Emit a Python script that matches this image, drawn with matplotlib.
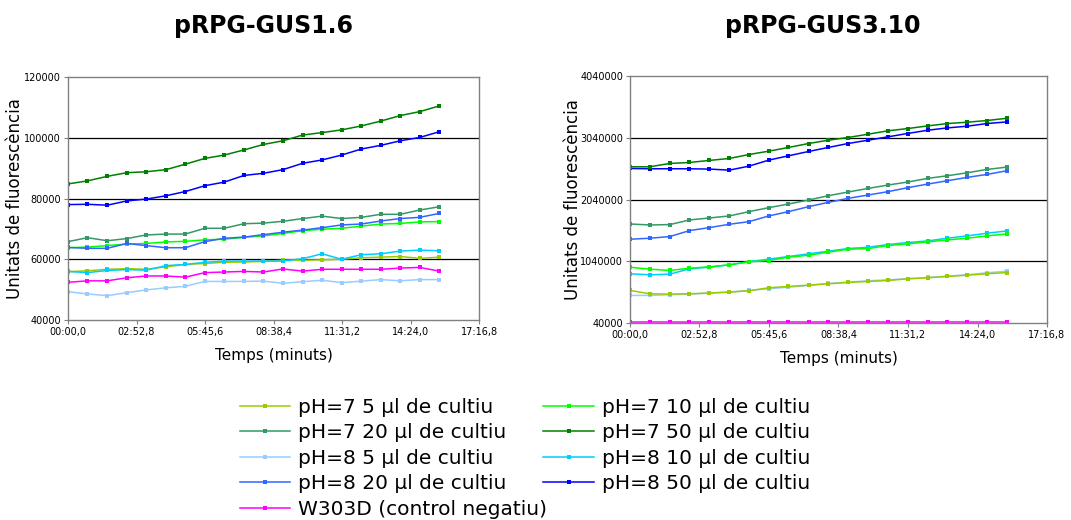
import matplotlib
matplotlib.use("Agg")
import matplotlib.pyplot as plt


# time of each reading, seconds
times_s = [0, 49, 99, 148, 197, 247, 296, 345, 394, 444,
           493, 542, 592, 641, 690, 740, 789, 838, 887, 937]

tick_s = [0, 172.8, 345.6, 518.4, 691.2, 864.0, 1036.8]
tick_labels = ["00:00,0", "02:52,8", "05:45,6", "08:38,4",
               "11:31,2", "14:24,0", "17:16,8"]

labels = ["pH=7 5 µl de cultiu", "pH=7 10 µl de cultiu",
          "pH=7 20 µl de cultiu", "pH=7 50 µl de cultiu",
          "pH=8 5 µl de cultiu", "pH=8 10 µl de cultiu",
          "pH=8 20 µl de cultiu", "pH=8 50 µl de cultiu",
          "W303D (control negatiu)"]
colors = ["#99CC00", "#00FF00", "#339966", "#008000",
          "#99CCFF", "#00CCFF", "#3366FF", "#0000FF", "#FF00FF"]

# pRPG-GUS1.6
gus16_ph7_5 = [55900, 56200, 56700, 56900, 56700, 57500, 58300, 58600, 59000, 59100,
               59300, 59700, 59700, 59800, 60000, 60500, 60700, 60900, 60300, 60700]
gus16_ph7_10 = [63800, 64000, 64500, 65000, 65200, 65700, 65900, 66400, 66600, 67200,
                67700, 68500, 69400, 69900, 70200, 70900, 71600, 71800, 72300, 72400]
gus16_ph7_20 = [65800, 67100, 66100, 66800, 68000, 68300, 68300, 70200, 70200, 71700,
                71900, 72500, 73400, 74200, 73400, 73800, 74800, 74800, 76200, 77300]
gus16_ph7_50 = [84800, 85800, 87300, 88500, 88800, 89500, 91300, 93200, 94300, 96000,
                97800, 99000, 100900, 101700, 102600, 103900, 105500, 107300, 108600, 110500]
gus16_ph8_5 = [49300, 48600, 48000, 49000, 49900, 50600, 51100, 52700, 52700, 52700,
               52800, 52100, 52600, 53100, 52300, 52800, 53300, 52900, 53300, 53300]
gus16_ph8_10 = [56000, 55600, 56300, 56600, 56400, 57900, 58300, 59000, 59400, 59400,
                59400, 59400, 60200, 61800, 60000, 61500, 61800, 62700, 63000, 62800]
gus16_ph8_20 = [63900, 63600, 63600, 65200, 64500, 63800, 63800, 65800, 66900, 67300,
                68100, 68900, 69600, 70400, 71300, 71600, 72600, 73400, 73800, 75100]
gus16_ph8_50 = [78000, 78100, 77800, 79200, 79800, 80900, 82300, 84200, 85400, 87600,
                88300, 89500, 91600, 92700, 94300, 96300, 97500, 99000, 100100, 102000]
gus16_w303d = [52400, 52900, 52900, 53900, 54500, 54500, 54100, 55600, 55800, 56000,
               55800, 56800, 56100, 56700, 56700, 56700, 56700, 57100, 57300, 56100]

# pRPG-GUS3.10
gus310_ph7_5 = [568000, 514000, 508000, 514000, 525000, 541000, 562000, 611000, 632000, 654000,
                675000, 697000, 713000, 729000, 756000, 772000, 794000, 815000, 837000, 858000]
gus310_ph7_10 = [944000, 912000, 891000, 928000, 950000, 982000, 1031000, 1052000, 1106000, 1138000,
                 1187000, 1235000, 1246000, 1294000, 1321000, 1354000, 1386000, 1413000, 1451000, 1483000]
gus310_ph7_20 = [1644000, 1628000, 1634000, 1709000, 1741000, 1774000, 1844000, 1908000, 1967000, 2032000,
                 2102000, 2161000, 2220000, 2274000, 2323000, 2382000, 2425000, 2473000, 2527000, 2565000]
gus310_ph7_50 = [2570000, 2570000, 2624000, 2640000, 2673000, 2705000, 2769000, 2823000, 2883000, 2947000,
                 3001000, 3044000, 3098000, 3152000, 3189000, 3232000, 3270000, 3292000, 3319000, 3356000]
gus310_ph8_5 = [487000, 487000, 498000, 508000, 525000, 541000, 568000, 595000, 621000, 648000,
                681000, 702000, 724000, 740000, 756000, 778000, 799000, 821000, 853000, 880000]
gus310_ph8_10 = [837000, 821000, 831000, 918000, 944000, 982000, 1036000, 1074000, 1117000, 1160000,
                 1203000, 1246000, 1267000, 1311000, 1343000, 1370000, 1413000, 1451000, 1494000, 1531000]
gus310_ph8_20 = [1397000, 1413000, 1440000, 1537000, 1585000, 1639000, 1682000, 1774000, 1844000, 1924000,
                 1994000, 2059000, 2113000, 2167000, 2231000, 2290000, 2344000, 2398000, 2446000, 2506000]
gus310_ph8_50 = [2543000, 2538000, 2538000, 2538000, 2533000, 2516000, 2581000, 2678000, 2748000, 2818000,
                 2883000, 2947000, 3001000, 3055000, 3109000, 3162000, 3200000, 3227000, 3270000, 3297000]
gus310_w303d = [56000, 57000, 56000, 56000, 57000, 56000, 57000, 56000, 57000, 56000,
                57000, 56000, 57000, 56000, 57000, 56000, 57000, 56000, 57000, 56000]

gus16 = [gus16_ph7_5, gus16_ph7_10, gus16_ph7_20, gus16_ph7_50,
         gus16_ph8_5, gus16_ph8_10, gus16_ph8_20, gus16_ph8_50, gus16_w303d]
gus310 = [gus310_ph7_5, gus310_ph7_10, gus310_ph7_20, gus310_ph7_50,
          gus310_ph8_5, gus310_ph8_10, gus310_ph8_20, gus310_ph8_50, gus310_w303d]

gus16_yticks = [40000, 60000, 80000, 100000, 120000]
gus310_yticks = [40000, 1040000, 2040000, 3040000, 4040000]

# draw order: low-dose/back first so the big blue/green sit on top
draw_order = [4, 0, 5, 1, 8, 6, 2, 7, 3]


def draw_panel(ax, series, yticks, ylab_x):
    for i in draw_order:
        ax.plot(times_s, series[i], color=colors[i], lw=1.1,
                marker="s", ms=2.2, mew=0, label=labels[i])
    ax.set_xlim(tick_s[0], tick_s[-1])
    ax.set_ylim(yticks[0], yticks[-1])
    ax.set_xticks(tick_s)
    ax.set_xticklabels(tick_labels, fontsize=7)
    ax.set_yticks(yticks)
    ax.set_yticklabels([str(v) for v in yticks], fontsize=7)
    for v in yticks[1:-1]:
        ax.axhline(v, color="black", lw=0.9, zorder=0)
    for s in ax.spines.values():
        s.set_color("#808080")
        s.set_linewidth(1.0)
    ax.tick_params(length=3, width=0.8, color="#808080", pad=2)
    ax.set_xlabel("Temps (minuts)", fontsize=11, labelpad=8)
    ax.set_ylabel("Unitats de fluorescència", fontsize=12)
    ax.yaxis.set_label_coords(ylab_x, 0.5)


fig = plt.figure(figsize=(10.71, 5.2), dpi=100)
ax1 = fig.add_axes([0.0635, 0.3846, 0.3838, 0.4673])
ax2 = fig.add_axes([0.5882, 0.3788, 0.3894, 0.4750])

draw_panel(ax1, gus16, gus16_yticks, -0.107)
draw_panel(ax2, gus310, gus310_yticks, -0.115)

fig.text(264 / 1071, 1 - 26 / 520, "pRPG-GUS1.6", fontsize=17,
         fontweight="bold", ha="center", va="center")
fig.text(823 / 1071, 1 - 26 / 520, "pRPG-GUS3.10", fontsize=17,
         fontweight="bold", ha="center", va="center")

# legend in two columns, same order as the reference
handles, _ = ax1.get_legend_handles_labels()
by_label = dict(zip([h.get_label() for h in handles], handles))
leg_order = [0, 2, 4, 6, 8, 1, 3, 5, 7]
fig.legend([by_label[labels[i]] for i in leg_order],
           [labels[i] for i in leg_order],
           loc="upper left", bbox_to_anchor=(240 / 1071, 1 - 398 / 520), ncol=2,
           frameon=False, fontsize=14.5, numpoints=1, handlelength=2.5,
           handletextpad=0.4, columnspacing=-0.2, labelspacing=0.32,
           borderpad=0, borderaxespad=0)

fig.savefig("out.png", dpi=100)
